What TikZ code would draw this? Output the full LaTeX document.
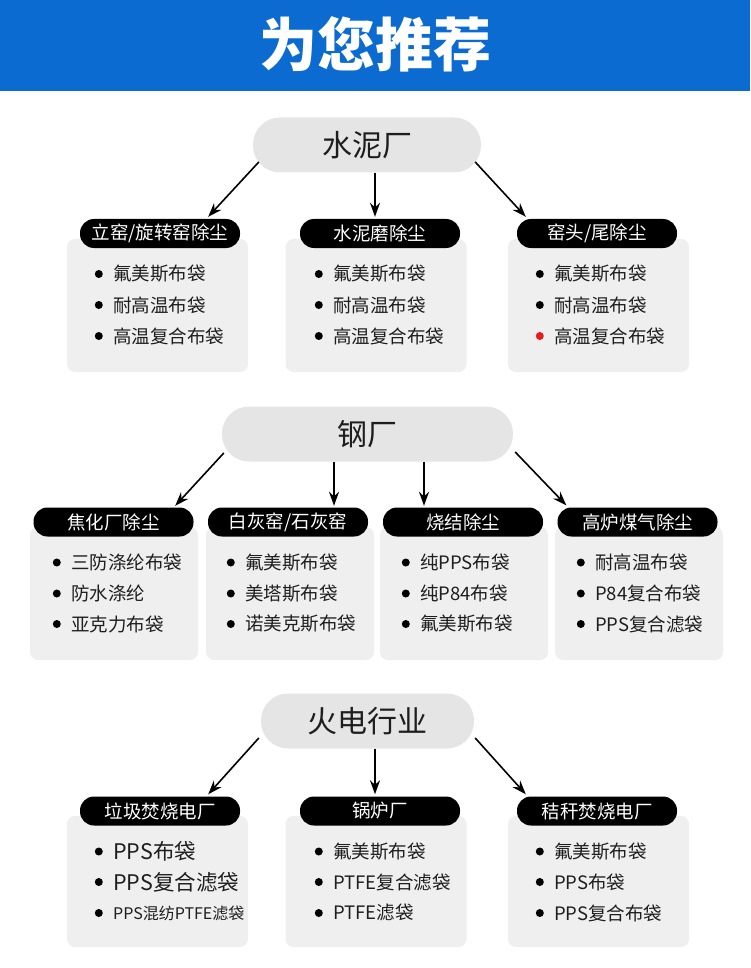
\documentclass[tikz,border=0pt]{standalone}
\usepackage{fontspec}
\setmainfont{Noto Sans CJK SC}
\usetikzlibrary{arrows.meta, positioning}

\definecolor{bandeau}{RGB}{11,107,209}
\definecolor{gristete}{RGB}{229,229,229}
\definecolor{grisboite}{RGB}{239,239,239}
\definecolor{encre}{RGB}{30,30,30}
\definecolor{rouge}{RGB}{232,28,28}

\begin{document}
\begin{tikzpicture}[x=1pt, y=-1pt,
	hub/.style={fill=gristete, text=encre, rounded corners=27pt, minimum height=55, inner sep=0pt, font=\fontsize{30}{32}\selectfont},
	cat/.style={fill=black, text=white, rounded corners=14pt, minimum width=160, minimum height=29, inner sep=0pt, font=\fontsize{18.5}{20}\selectfont},
	panel/.style={fill=grisboite, rounded corners=8pt, minimum width=181, minimum height=133, inner sep=0pt},
	puce/.style={circle, fill=#1, inner sep=0pt, minimum size=8pt},
	itembase/.style={anchor=west, inner sep=0pt, text=encre, font=\fontsize{18.5}{20}\selectfont},
	item/.style={itembase, label={[puce=black, label distance=10pt]left:{}}},
	itemrouge/.style={itembase, label={[puce=rouge, label distance=10pt]left:{}}},
	fleche/.style={-{Stealth[length=14pt, width=10pt]}, line width=1.6pt}]

	\useasboundingbox (0,0) rectangle (750,968);

	%bandeau
	\fill[bandeau] (0,0) rectangle (750,91);
	\node[text=white, font=\fontsize{58}{60}\selectfont\bfseries] (titre) at (375,44) {为您推荐};

	%ciment
	\node[hub, minimum width=228] 	(ciment) 	at (367,145) 	{水泥厂};
	\node[panel] 	(p11) 	at (157.5,305.5) 	{};
	\node[panel] 	(p12) 	at (376,305.5) 		{};
	\node[panel] 	(p13) 	at (598.5,305.5) 	{};
	\node[cat] 		(c11) 	at (160,233.5) 		{立窑/旋转窑除尘};
	\node[cat] 		(c12) 	at (380,233.5) 		{水泥磨除尘};
	\node[cat] 		(c13) 	at (597,233.5) 		{窑头/尾除尘};

	\draw[fleche] ([shift={(6,17)}]ciment.west) to ([shift={(-32,-2)}]c11.north east);
	\draw[fleche] ([xshift=8]ciment.south) to ([shift={(-5,-2)}]c12.north);
	\draw[fleche] ([shift={(-6,17)}]ciment.east) to ([shift={(9,-2)}]c13.north west);

	\node[item] (i111) at (113,274) {氟美斯布袋};
	\node[item] (i112) at (113,305) {耐高温布袋};
	\node[item] (i113) at (113,336) {高温复合布袋};
	\node[item] (i121) at (333,274) {氟美斯布袋};
	\node[item] (i122) at (333,305) {耐高温布袋};
	\node[item] (i123) at (333,336) {高温复合布袋};
	\node[item] (i131) at (554,274) {氟美斯布袋};
	\node[item] (i132) at (554,305) {耐高温布袋};
	\node[itemrouge] (i133) at (554,336) {高温复合布袋};

	%acier
	\node[hub, minimum width=291] 	(acier) 	at (367.5,434) 	{钢厂};
	\node[panel, minimum width=168] 	(p21) 	at (114,593.5) 	{};
	\node[panel, minimum width=168] 	(p22) 	at (290,593.5) 	{};
	\node[panel, minimum width=168] 	(p23) 	at (464,593.5) 	{};
	\node[panel, minimum width=168] 	(p24) 	at (639,593.5) 	{};
	\node[cat] 		(c21) 	at (113.5,522) 		{焦化厂除尘};
	\node[cat] 		(c22) 	at (288,522) 		{白灰窑/石灰窑};
	\node[cat] 		(c23) 	at (463,522) 		{烧结除尘};
	\node[cat] 		(c24) 	at (637.5,522) 		{高炉煤气除尘};

	\draw[fleche] ([shift={(2,19)}]acier.west) to ([shift={(-18.5,-1.5)}]c21.north east);
	\draw[fleche] ([xshift=-33.5]acier.south) to ([shift={(46,-1.5)}]c22.north);
	\draw[fleche] ([xshift=56.5]acier.south) to ([shift={(-39,-1.5)}]c23.north);
	\draw[fleche] ([shift={(2,18)}]acier.east) to ([shift={(9,-2)}]c24.north west);

	\node[item] (i211) at (71,562.5) {三防涤纶布袋};
	\node[item] (i212) at (71,593.5) {防水涤纶};
	\node[item] (i213) at (71,624) {亚克力布袋};
	\node[item] (i221) at (245,562.5) {氟美斯布袋};
	\node[item] (i222) at (245,593.5) {美塔斯布袋};
	\node[item] (i223) at (245,624) {诺美克斯布袋};
	\node[item] (i231) at (420,562.5) {纯PPS布袋};
	\node[item] (i232) at (420,593.5) {纯P84布袋};
	\node[item] (i233) at (420,624) {氟美斯布袋};
	\node[item] (i241) at (595,562.5) {耐高温布袋};
	\node[item] (i242) at (595,593.5) {P84复合布袋};
	\node[item] (i243) at (595,624) {PPS复合滤袋};

	%centrales
	\node[hub, minimum width=213] 	(centrale) 	at (367.5,721) 	{火电行业};
	\node[panel, minimum height=131] 	(p31) 	at (157.5,881.5) 	{};
	\node[panel, minimum height=131] 	(p32) 	at (376,881.5) 		{};
	\node[panel, minimum height=131] 	(p33) 	at (598.5,881.5) 	{};
	\node[cat] 		(c31) 	at (160,811) 		{垃圾焚烧电厂};
	\node[cat] 		(c32) 	at (380,811) 		{锅炉厂};
	\node[cat] 		(c33) 	at (597,811) 		{秸秆焚烧电厂};

	\draw[fleche] ([shift={(-2,17)}]centrale.west) to ([shift={(-32,-2)}]c31.north east);
	\draw[fleche] ([xshift=7.5]centrale.south) to ([shift={(-5,-2)}]c32.north);
	\draw[fleche] ([shift={(1,17)}]centrale.east) to ([shift={(9,-2)}]c33.north west);

	\node[item, font=\fontsize{21.5}{23}\selectfont] (i311) at (113,851.5) {PPS布袋};
	\node[item, font=\fontsize{21.5}{23}\selectfont] (i312) at (113,882) {PPS复合滤袋};
	\node[item, font=\fontsize{16}{18}\selectfont] (i313) at (113,913) {PPS混纺PTFE滤袋};
	\node[item] (i321) at (333,851.5) {氟美斯布袋};
	\node[item] (i322) at (333,882) {PTFE复合滤袋};
	\node[item] (i323) at (333,913) {PTFE滤袋};
	\node[item] (i331) at (554,851.5) {氟美斯布袋};
	\node[item] (i332) at (554,882) {PPS布袋};
	\node[item] (i333) at (554,913) {PPS复合布袋};

\end{tikzpicture}
\end{document}
